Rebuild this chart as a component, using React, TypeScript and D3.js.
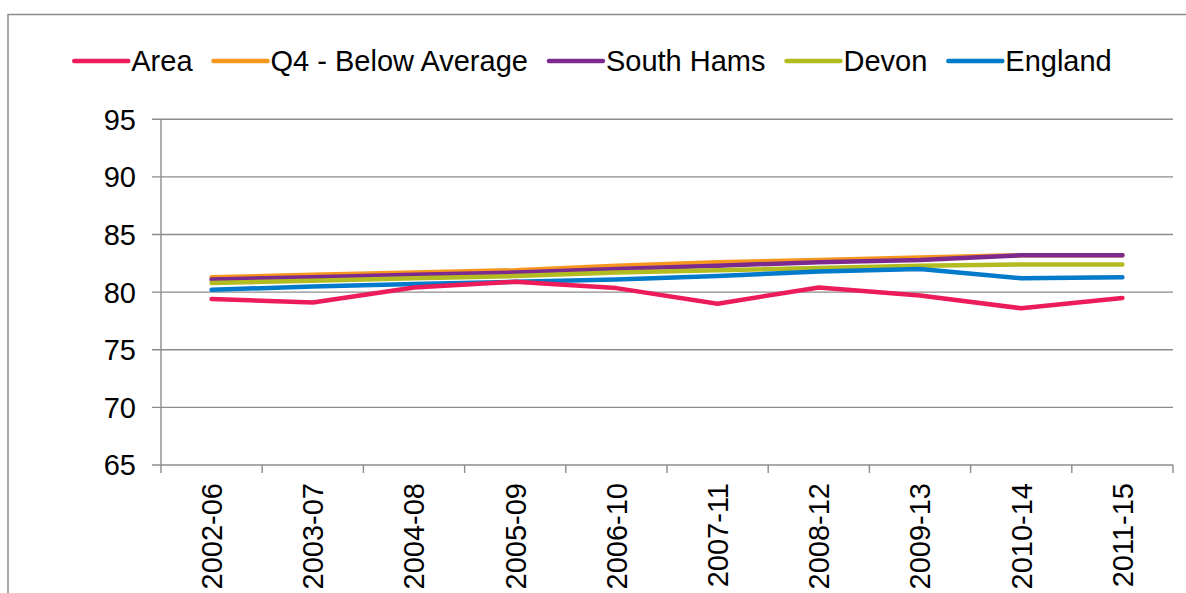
import React, { useEffect, useRef } from "react";
import * as d3 from "d3";

const categories = ["2002-06", "2003-07", "2004-08", "2005-09", "2006-10", "2007-11", "2008-12", "2009-13", "2010-14", "2011-15"];
const yTicks = [65, 70, 75, 80, 85, 90, 95];

const areaValues = [79.4, 79.1, 80.4, 80.9, 80.35, 79.0, 80.4, 79.7, 78.6, 79.5];
const q4Values = [81.3, 81.5, 81.7, 81.9, 82.3, 82.6, 82.8, 83.0, 83.2, 83.2];
const southHamsValues = [81.1, 81.3, 81.5, 81.7, 82.0, 82.3, 82.6, 82.8, 83.2, 83.2];
const devonValues = [80.8, 81.0, 81.2, 81.4, 81.7, 81.9, 82.1, 82.3, 82.4, 82.4];
const englandValues = [80.2, 80.5, 80.7, 80.9, 81.1, 81.4, 81.8, 82.0, 81.2, 81.3];

const seriesNames = ["Area", "Q4 - Below Average", "South Hams", "Devon", "England"];
const seriesColors = ["#EC1C5B", "#F7961F", "#7D2A8F", "#B2BC21", "#007ACB"];

export default function App() {
  const ref = useRef<SVGSVGElement>(null);

  useEffect(() => {
    const svg = d3.select(ref.current);
    svg.selectAll("*").remove();
    const W = 1186, H = 593;
    const left = 161, right = 1173, top = 119.3, bottom = 465;
    const font = "'Liberation Sans', Arial, sans-serif";
    const fs = 29;
    const gray = "#8c8c8c";

    // outer border
    svg.append("rect").attr("x", 8).attr("y", 14.5).attr("width", W + 20).attr("height", H + 20)
      .attr("fill", "none").attr("stroke", gray).attr("stroke-width", 1.5);

    const x = d3.scaleBand().domain(categories).range([left, right]).paddingInner(0).paddingOuter(0);
    const y = d3.scaleLinear().domain([65, 95]).range([bottom, top]);

    // gridlines
    svg.append("g").selectAll("line").data(yTicks).join("line")
      .attr("x1", left - 9).attr("x2", right)
      .attr("y1", d => y(d)).attr("y2", d => y(d))
      .attr("stroke", gray).attr("stroke-width", 1.4);

    // y axis line
    svg.append("line").attr("x1", left).attr("x2", left).attr("y1", top).attr("y2", bottom)
      .attr("stroke", gray).attr("stroke-width", 1.4);

    // y labels
    svg.append("g").selectAll("text").data(yTicks).join("text")
      .attr("x", 136).attr("y", d => y(d)).attr("dy", "0.36em")
      .attr("text-anchor", "end").attr("font-family", font).attr("font-size", fs).attr("fill", "#000")
      .text(d => String(d));

    // x ticks
    const bounds = categories.map(c => x(c) as number).concat([right]);
    svg.append("g").selectAll("line").data(bounds).join("line")
      .attr("x1", d => d).attr("x2", d => d).attr("y1", bottom).attr("y2", bottom + 8)
      .attr("stroke", gray).attr("stroke-width", 1.4);

    // x labels
    svg.append("g").selectAll("text").data(categories).join("text")
      .attr("transform", d => `translate(${(x(d) as number) + x.bandwidth() / 2},${bottom + 18}) rotate(-90)`)
      .attr("dy", "0.36em")
      .attr("text-anchor", "end").attr("font-family", font).attr("font-size", fs).attr("fill", "#000")
      .text(d => d);

    // lines
    const allSeries = [areaValues, q4Values, southHamsValues, devonValues, englandValues];
    const order = [1, 2, 3, 4, 0];
    const lineGen = d3.line<number>()
      .x((_, i) => (x(categories[i]) as number) + x.bandwidth() / 2)
      .y(d => y(d));
    order.forEach(i => {
      svg.append("path").datum(allSeries[i]).attr("d", lineGen)
        .attr("fill", "none").attr("stroke", seriesColors[i]).attr("stroke-width", 4.5)
        .attr("stroke-linecap", "round").attr("stroke-linejoin", "round");
    });

    // legend
    const lg = svg.append("g");
    const ly = 61;
    const lineLen = 54, gapText = 3, gapItem = 21;
    let cx = 0;
    const items: { g: any; w: number }[] = [];
    seriesNames.forEach((name, i) => {
      const g = lg.append("g");
      g.append("line").attr("x1", 0).attr("x2", lineLen).attr("y1", 0).attr("y2", 0)
        .attr("stroke", seriesColors[i]).attr("stroke-width", 4.5).attr("stroke-linecap", "round");
      const t = g.append("text").attr("x", lineLen + gapText).attr("y", 0).attr("dy", "0.36em")
        .attr("font-family", font).attr("font-size", fs).attr("fill", "#000").text(name);
      const tw = (t.node() as SVGTextElement).getComputedTextLength();
      items.push({ g, w: lineLen + gapText + tw });
    });
    const total = items.reduce((s, it) => s + it.w, 0) + gapItem * (items.length - 1);
    cx = W / 2 - total / 2;
    items.forEach(it => {
      it.g.attr("transform", `translate(${cx},${ly})`);
      cx += it.w + gapItem;
    });
  }, []);

  return (
    <div style={{ position: "absolute", left: 0, top: 0 }}>
      <svg ref={ref} width={1186} height={593} style={{ display: "block", background: "#fff" }} />
    </div>
  );
}
